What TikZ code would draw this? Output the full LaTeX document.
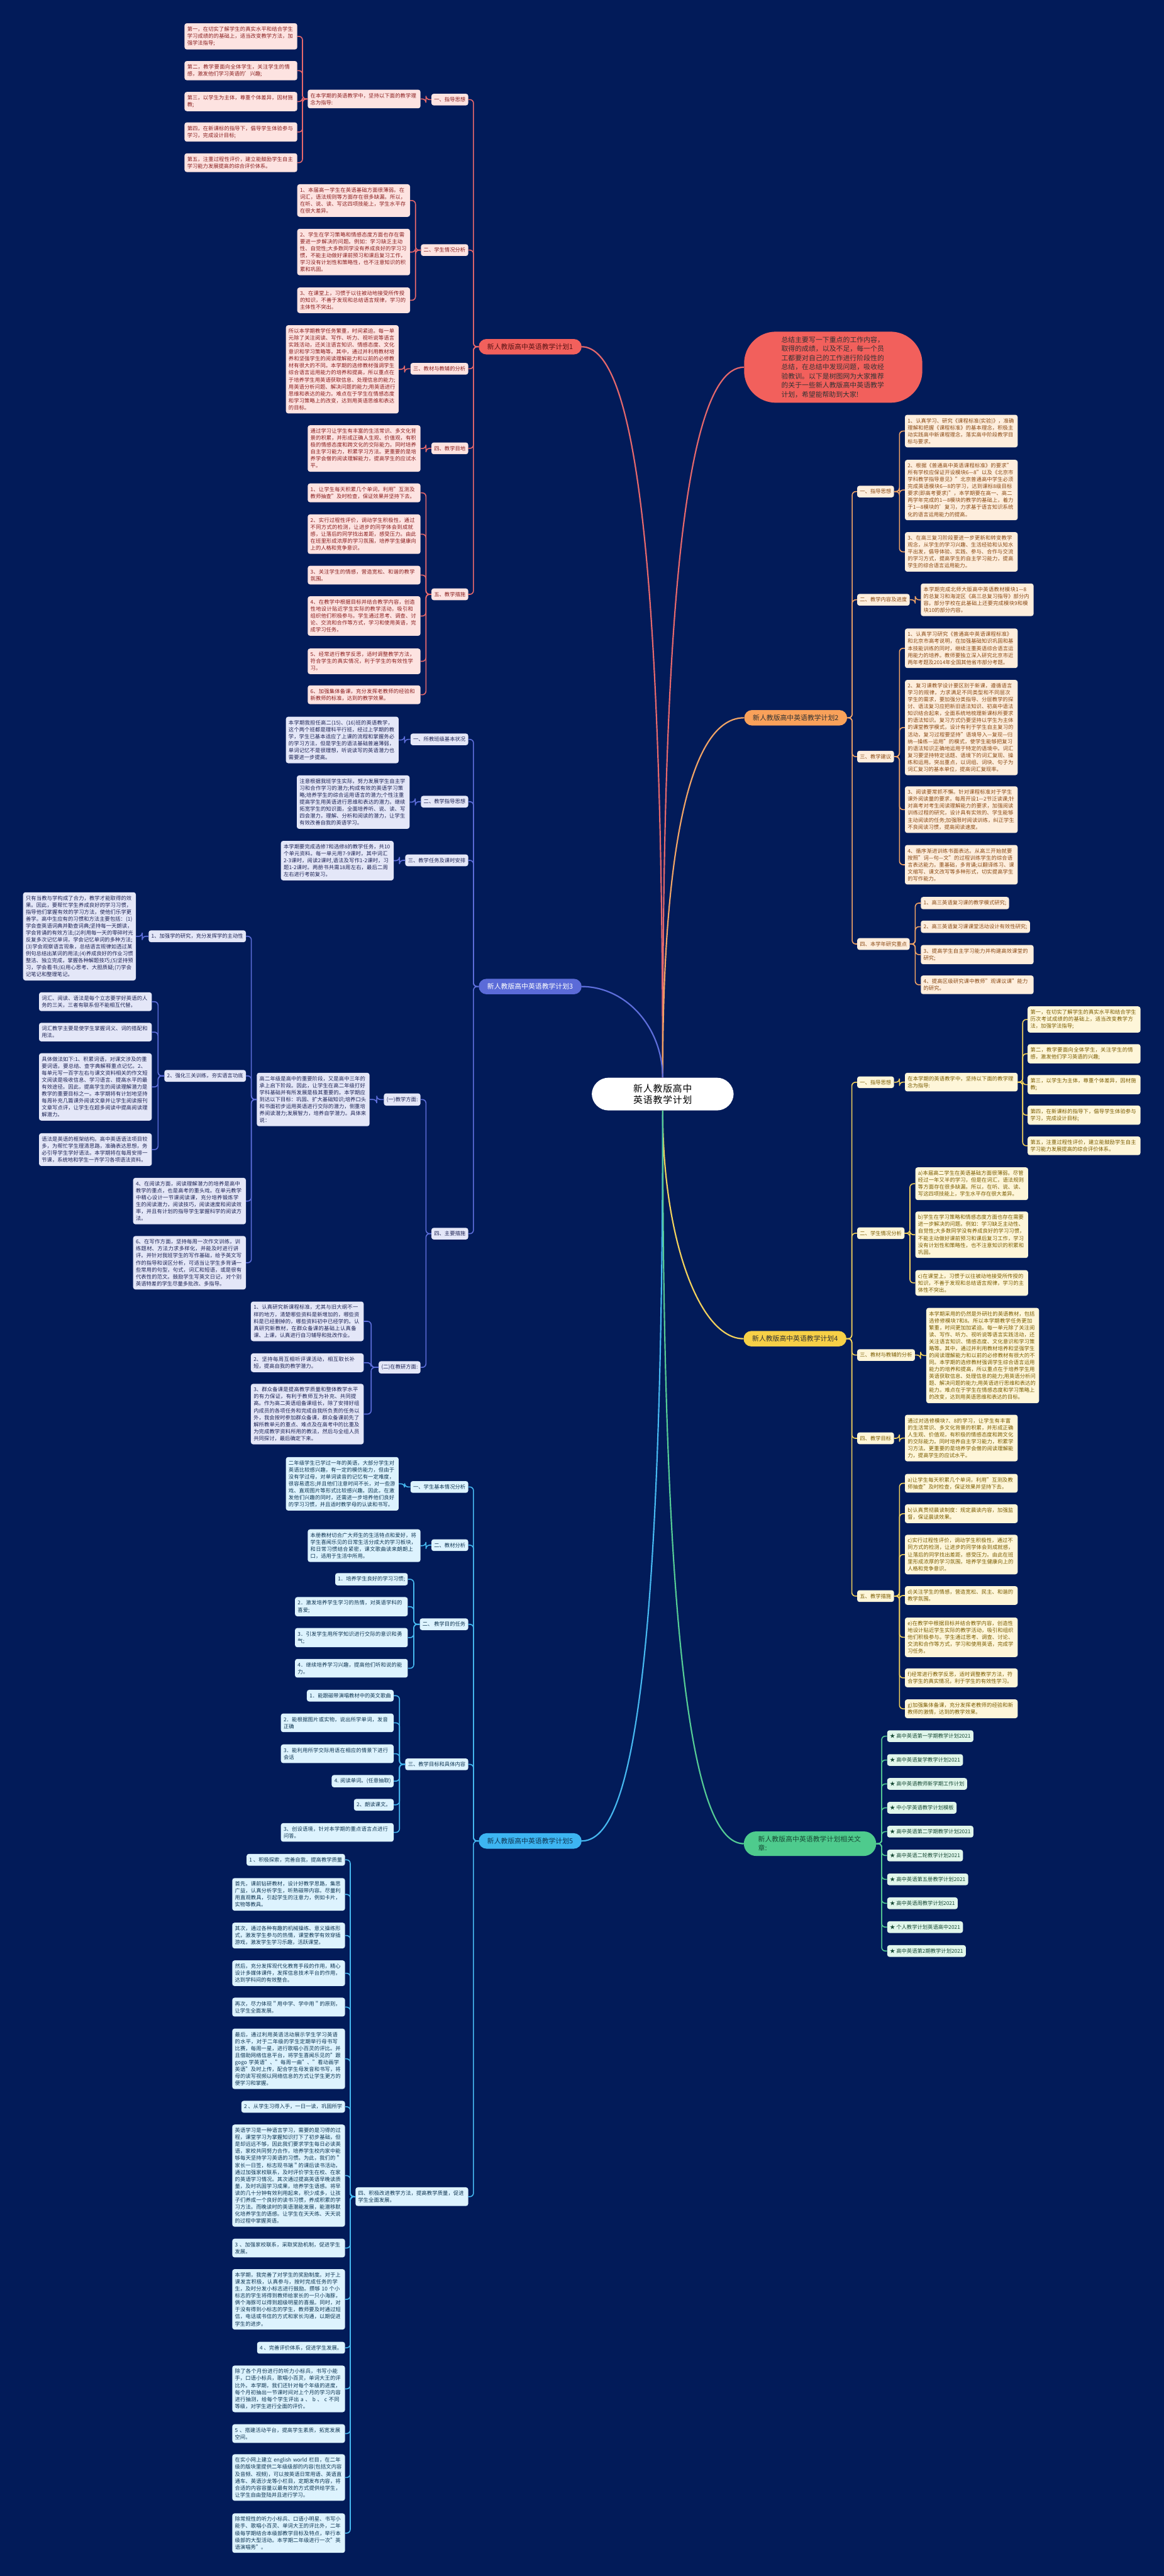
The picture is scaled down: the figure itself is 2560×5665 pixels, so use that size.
\documentclass[tikz,border=0pt]{standalone}
\usepackage{fontspec}
\setmainfont{Noto Sans CJK SC}
\XeTeXlinebreaklocale "zh"
\XeTeXlinebreakskip=0pt plus 1pt
\usetikzlibrary{calc}

\definecolor{bgnavy}{RGB}{2,27,89}
% branch colours
\definecolor{redmain}{RGB}{242,96,92}
\definecolor{redleaf}{RGB}{253,227,225}
\definecolor{redtext}{RGB}{138,30,30}
\definecolor{redline}{RGB}{230,104,108}
\definecolor{redhead}{RGB}{90,20,20}
\definecolor{orgmain}{RGB}{249,161,90}
\definecolor{orgleaf}{RGB}{254,238,221}
\definecolor{orgtext}{RGB}{138,74,20}
\definecolor{orgline}{RGB}{242,165,102}
\definecolor{blumain}{RGB}{91,107,216}
\definecolor{bluleaf}{RGB}{228,231,248}
\definecolor{blutext}{RGB}{30,36,85}
\definecolor{bluline}{RGB}{94,110,219}
\definecolor{yelmain}{RGB}{247,208,71}
\definecolor{yelleaf}{RGB}{254,246,217}
\definecolor{yeltext}{RGB}{122,92,0}
\definecolor{yelline}{RGB}{243,210,92}
\definecolor{cyamain}{RGB}{61,181,242}
\definecolor{cyaleaf}{RGB}{221,243,254}
\definecolor{cyatext}{RGB}{14,53,82}
\definecolor{cyaline}{RGB}{70,184,240}
\definecolor{grnmain}{RGB}{78,203,141}
\definecolor{grnleaf}{RGB}{224,246,235}
\definecolor{grntext}{RGB}{23,74,53}
\definecolor{grnline}{RGB}{85,204,149}

% elbow links from a parent to its children
\newcommand\joinL[3]{\foreach \k in {#3}{\draw[#1] (#2.west) -- ($(#2.west)!.5!(#2.west -| \k.east)$) |- (\k.east);}}
\newcommand\joinR[3]{\foreach \k in {#3}{\draw[#1] (#2.east) -- ($(#2.east)!.5!(#2.east -| \k.west)$) |- (\k.west);}}

\begin{document}
\begin{tikzpicture}[x=1pt, y=-1pt,
    every node/.style={font=\fontsize{11.5}{15.3}\selectfont, inner xsep=6pt, inner ysep=7.5pt, align=left, rounded corners=5pt},
    wide/.style={text width=236pt},
    mainn/.style={rounded corners=17pt, font=\fontsize{15}{18}\selectfont, inner xsep=19pt, inner ysep=10pt},
    lfA/.style={fill=redleaf, text=redtext},
    lfB/.style={fill=orgleaf, text=orgtext},
    lfC/.style={fill=bluleaf, text=blutext},
    lfD/.style={fill=yelleaf, text=yeltext},
    lfE/.style={fill=cyaleaf, text=cyatext},
    lfF/.style={fill=grnleaf, text=grntext},
    lnA/.style={draw=redline, line width=2.2pt, rounded corners=8pt},
    lnB/.style={draw=orgline, line width=2.2pt, rounded corners=8pt},
    lnC/.style={draw=bluline, line width=2.2pt, rounded corners=8pt},
    lnD/.style={draw=yelline, line width=2.2pt, rounded corners=8pt},
    lnE/.style={draw=cyaline, line width=2.2pt, rounded corners=8pt},
    lnF/.style={draw=grnline, line width=2.2pt, rounded corners=8pt}]

\useasboundingbox (0,0) rectangle (2560,5665);
\fill[bgnavy] (0,0) rectangle (2560,5665);

% centre
\node[fill=white, text=black, rounded corners=37pt, font=\fontsize{20.5}{25}\selectfont,
  text width=226pt, align=center, inner xsep=43pt, inner ysep=14pt] (root) at (1457.5,2406) {新人教版高中英语教学计划};

% main branches
\node[mainn, fill=redmain, text=redhead] (m1) at (1166,762.5) {新人教版高中英语教学计划1};
\node[mainn, fill=orgmain, text=black!80] (m2) at (1750,1578.5) {新人教版高中英语教学计划2};
\node[mainn, fill=blumain, text=white] (m3) at (1166,2169.5) {新人教版高中英语教学计划3};
\node[mainn, fill=yelmain, text=black!80] (m4) at (1748.5,2944) {新人教版高中英语教学计划4};
\node[mainn, fill=cyamain, text=cyatext] (m5) at (1166,4048.5) {新人教版高中英语教学计划5};
\node[mainn, fill=grnmain, text=grntext, rounded corners=27pt, font=\fontsize{15}{20}\selectfont,
  text width=228pt, inner xsep=31.5pt] (rel) at (1781.5,4054.5) {新人教版高中英语教学计划相关文章:};
\node[fill=redmain, text=black!80, rounded corners=70pt, font=\fontsize{15}{20}\selectfont,
  text width=228pt, inner xsep=82pt, inner ysep=11pt] (call) at (1832.5,807.5)
  {总结主要写一下重点的工作内容，取得的成绩，以及不足，每一个员工都要对自己的工作进行阶段性的总结，在总结中发现问题，吸收经验教训。以下是树图网为大家推荐的关于一些新人教版高中英语教学计划，希望能帮助到大家!};

% ---------- plan 1
\node[lfA, anchor=east] (p1a) at (1030,219) {一、指导思想};
\node[lfA, wide, anchor=north east] (p1a1) at (925,197) {在本学期的英语教学中，坚持以下面的教学理念为指导:};
\node[lfA, wide, anchor=north east] (g1) at (654,51) {第一，在切实了解学生的真实水平和结合学生学习成绩的的基础上，适当改变教学方法，加强学法指导;};
\node[lfA, wide, anchor=north east] (g2) at (654,134) {第二，教学要面向全体学生，关注学生的情感，激发他们学习英语的'兴趣;};
\node[lfA, wide, anchor=north east] (g3) at (654,202) {第三，以学生为主体，尊重个体差异，因材施教;};
\node[lfA, wide, anchor=north east] (g4) at (654,269) {第四，在新课标的指导下，倡导学生体验参与学习，完成设计目标;};
\node[lfA, wide, anchor=north east] (g5) at (654,337) {第五，注重过程性评价，建立能鼓励学生自主学习能力发展提高的综合评价体系。};
\node[lfA, anchor=east] (p1b) at (1030,550) {二、学生情况分析};
\node[lfA, wide, anchor=north east] (s1) at (902,405) {1、本届高一学生在英语基础方面很薄弱。在词汇，语法规则等方面存在很多缺漏。所以，在听、说、读、写这四项技能上，学生水平存在很大差异。};
\node[lfA, wide, anchor=north east] (s2) at (902,503) {2、学生在学习策略和情感态度方面也存在需要进一步解决的问题。例如：学习缺乏主动性、自觉性;大多数同学没有养成良好的学习习惯，不能主动做好课前预习和课后复习工作，学习没有计划性和策略性，也不注意知识的积累和巩固。};
\node[lfA, wide, anchor=north east] (s3) at (902,632) {3、在课堂上，习惯于以往被动地接受所传授的知识，不善于发现和总结语言规律，学习的主体性不突出。};
\node[lfA, anchor=east] (p1c) at (1030,811) {三、教材与教辅的分析};
\node[lfA, wide, anchor=north east] (t1) at (877,715) {所以本学期教学任务繁重，时间紧迫。每一单元除了关注阅读、写作、听力、视听说等语言实践活动，还关注语言知识、情感态度、文化意识和学习策略等。其中，通过并利用教材培养和坚强学生的阅读理解能力和以前的必修教材有很大的不同。本学期的选修教材强调学生综合语言运用能力的培养和提高，所以重点在于培养学生用英语获取信息、处理信息的能力;用英语分析问题、解决问题的能力;用英语进行思维和表达的能力。难点在于学生在情感态度和学习策略上的改变，达到用英语思维和表达的目标。};
\node[lfA, anchor=east] (p1d) at (1030,986) {四、教学目地};
\node[lfA, wide, anchor=north east] (u1) at (925,935) {通过学习让学生有丰富的生活常识、多文化背景的积累，并形成正确人生观、价值观，有积极的情感态度和跨文化的交际能力。同时培养自主学习能力，积累学习方法。更重要的是培养学会僧的阅读理解能力，提高学生的应试水平。};
\node[lfA, anchor=east] (p1e) at (1030,1307) {五、教学措施};
\node[lfA, wide, anchor=north east] (v1) at (925,1063) {1、让学生每天积累几个单词，利用"互测及教师抽查"及时检查，保证效果并坚持下去。};
\node[lfA, wide, anchor=north east] (v2) at (925,1131) {2、实行过程性评价，调动学生积极性，通过不同方式的检测，让进步的同学体会到成就感，让落后的同学找出差距，感受压力。由此在班里形成浓厚的学习氛围，培养学生健康向上的人格和竞争意识。};
\node[lfA, wide, anchor=north east] (v3) at (925,1244) {3、关注学生的情感，营造宽松、和谐的教学氛围。};
\node[lfA, wide, anchor=north east] (v4) at (925,1311) {4、在教学中根据目标并结合教学内容，创造性地设计贴近学生实际的教学活动，吸引和组织他们积极参与。学生通过思考、调查、讨论、交流和合作等方式，学习和使用英语，完成学习任务。};
\node[lfA, wide, anchor=north east] (v5) at (925,1426) {5、经常进行教学反思，适时调整教学方法，符合学生的真实情况，利于学生的有效性学习。};
\node[lfA, wide, anchor=north east] (v6) at (925,1507) {6、加强集体备课，充分发挥老教师的经验和新教师的标准，达到的教学效果。};

% ---------- plan 2
\node[lfB, anchor=west] (p2a) at (1885,1081) {一、指导思想};
\node[lfB, wide, anchor=north west] (h1) at (1990,912) {1、认真学习、研究《课程标准(实验)》，准确理解和把握《课程标准》的基本理念，积极主动实践高中新课程理念，落实高中阶段教学目标与要求。};
\node[lfB, wide, anchor=north west] (h2) at (1990,1011) {2、根据《普通高中英语课程标准》的要求"所有学校应保证开设模块6—8"以及《北京市学科教学指导意见》"北京普通高中学生必须完成英语模块6—8的学习，达到课标8级目标要求(即高考要求)"，本学期要在高一、高二两学年完成的1—8模块的教学的基础上，着力于1—8模块的'复习，力求基于语言知识系统化的语言运用能力的提高。};
\node[lfB, wide, anchor=north west] (h3) at (1990,1170) {3、在高三复习阶段要进一步更新和转变教学观念，从学生的学习兴趣、生活经验和认知水平出发，倡导体验、实践、参与、合作与交流的学习方式，提高学生的自主学习能力，提高学生的综合语言运用能力。};
\node[lfB, anchor=west] (p2b) at (1885,1319) {二、教学内容及进度};
\node[lfB, wide, anchor=north west] (h4) at (2025,1283) {本学期完成北师大版高中英语教材模块1—8的总复习和海淀区《高三总复习指导》部分内容。部分学校在此基础上还要完成模块9和模块10的部分内容。};
\node[lfB, anchor=west] (p2c) at (1885,1664) {三、教学建议};
\node[lfB, wide, anchor=north west] (j1) at (1990,1382) {1、认真学习研究《普通高中英语课程标准》和北京市高考说明，在加强基础知识巩固和基本技能训练的同时，继续注重英语综合语言运用能力的培养。教师要独立深入研究北京市近两年考题及2014年全国其他省市部分考题。};
\node[lfB, wide, anchor=north west] (j2) at (1990,1495) {2、复习课教学设计要区别于新课，遵循语言学习的规律，力求满足不同类型和不同层次学生的需求，要加强分类指导、分层教学的探讨、语法复习应把新旧语法知识、初高中语法知识结合起来，全面系统地梳理新课标所要求的语法知识。复习方式仍要坚持以学生为主体的课堂教学模式，设计有利于学生自主复习的活动，复习过程要坚持"语境导入—复现—归纳—操练—运用"的模式，使学生能够把复习的语法知识正确地运用于特定的语境中。词汇复习要坚持特定话题、语境下的词汇复现、操练和运用。突出重点，以词组、词块、句子为词汇复习的基本单位，提高词汇复现率。};
\node[lfB, wide, anchor=north west] (j3) at (1990,1729) {3、阅读要常抓不懈。针对课程标准对于学生课外阅读量的要求，每周开设1—2节泛读课;针对高考对考生阅读理解能力的要求，加强阅读训练过程的研究，设计具有实效的、学生能够主动阅读的任务;加强限时阅读训练，纠正学生不良阅读习惯，提高阅读速度。};
\node[lfB, wide, anchor=north west] (j4) at (1990,1858) {4、循序渐进训练书面表达。从高三开始就要按照"词—句—文"的过程训练学生的综合语言表达能力。重基础，多背诵;以翻译练习、课文缩写、课文改写等多种形式，切实提高学生的写作能力。};
\node[lfB, anchor=west] (p2d) at (1885,2076) {四、本学年研究重点};
\node[lfB, anchor=west] (k1) at (2025,1986) {1、高三英语复习课的教学模式研究;};
\node[lfB, anchor=west] (k2) at (2025,2038) {2、高三英语复习课课堂活动设计有效性研究;};
\node[lfB, wide, anchor=north west] (k3) at (2025,2078) {3、提高学生自主学习能力并构建高效课堂的研究;};
\node[lfB, wide, anchor=north west] (k4) at (2025,2145) {4、提高区级研究课中教师"观课议课"能力的研究。};

% ---------- plan 3
\node[lfC, anchor=east] (p3a) at (1030,1626) {一、所教班级基本状况};
\node[lfC, wide, anchor=north east] (w1) at (877,1576) {本学期我担任高二(15)、(16)班的英语教学，这个两个班都是理科平行班，经过上学期的教学，学生已基本适应了上课的流程和掌握务必的学习方法，但是学生的语法基础普遍薄弱，单词记忆不是很理想，听说读写的英语潜力也需要进一步提高。};
\node[lfC, anchor=east] (p3b) at (1030,1763) {二、教学指导思想};
\node[lfC, wide, anchor=north east] (w2) at (901,1705) {注意根据我班学生实际，努力发展学生自主学习和合作学习的潜力;构成有效的英语学习策略;培养学生的综合运用语言的潜力;个性注重提高学生用英语进行思维和表达的潜力。继续拓宽学生的知识面，全面培养听、说、读、写四会潜力，理解、分析和阅读的潜力，让学生有效改善自我的英语学习。};
\node[lfC, anchor=east] (p3c) at (1030,1892) {三、教学任务及课时安排};
\node[lfC, wide, anchor=north east] (w3) at (866,1849) {本学期要完成选修7和选修8的教学任务，共10个单元资料。每一单元用7-9课时，其中词汇2-3课时，阅读2课时,语法及写作1-2课时，习题1-2课时。两册书共需18周左右，最后二周左右进行考前复习。};
\node[lfC, anchor=east] (p3d) at (1030,2713) {四、主要措施};
\node[lfC, anchor=east] (q1) at (925,2418) {(一)教学方面:};
\node[lfC, wide, anchor=north east] (q1x) at (813,2359) {高二年级是高中的重要阶段，又是高中三年的承上启下阶段。因此，让学生在高二年级打好学科基础并有所发展是极其重要的。本学期应到达以下目标：巩固、扩大基础知识;培养口头和书面初步运用英语进行交际的潜力，侧重培养阅读潜力;发展智力，培养自学潜力。具体来说：};
\node[lfC, anchor=east] (r1) at (541,2059) {1、加强学的研究，充分发挥学的主动性};
\node[lfC, wide, anchor=north east] (r1a) at (299,1962) {只有当教与学构成了合力，教学才能取得的效果。因此，要帮忙学生养成良好的学习习惯，指导他们掌握有效的学习方法，使他们乐学更善学。高中生应有的习惯和方法主要包括：(1)学会查英语词典并勤查词典;坚持每一天朗读，学会背诵的有效方法;(2)利用每一天的零碎时光反复多次记忆单词，学会记忆单词的多种方法;(3)学会观察语言现象，总结语言规律如透过某例句总结出某词的用法;(4)养成良好的作业习惯整洁、独立完成，掌握各种解题技巧;(5)坚持预习，学会看书;(6)用心思考、大胆质疑;(7)学会记笔记和整理笔记。};
\node[lfC, anchor=east] (r2) at (541,2366) {2、强化三关训练，夯实语言功底};
\node[lfC, wide, anchor=north east] (r2a) at (334,2182) {词汇、阅读、语法是每个立志要学好英语的人务的三关，三者有联系但不能相互代替。};
\node[lfC, wide, anchor=north east] (r2b) at (334,2249) {词汇教学主要是使学生掌握词义、词的搭配和用法。};
\node[lfC, wide, anchor=north east] (r2c) at (334,2316) {具体做法如下:1、积累词语，对课文涉及的重要词语，要总结、查字典解释重点记忆。2、每单元写一百字左右与课文资料相关的作文短文阅读是吸收信息、学习语言、提高水平的最有效途径。因此，提高学生的阅读理解潜力是教学的重要目标之一。本学期将有计划地坚持每周补充几篇课外阅读文章并让学生阅读报刊文章写点评，让学生在超多阅读中提高阅读理解潜力。};
\node[lfC, wide, anchor=north east] (r2d) at (334,2492) {语法是英语的框架结构。高中英语语法项目较多，为帮忙学生理清思路，准确表达思想，务必引导学生学好语法。本学期将在每周安排一节课，系统地和学生一齐学习各项语法资料。};
\node[lfC, wide, anchor=north east] (r4) at (541,2590) {4、在阅读方面，阅读理解潜力的培养是高中教学的重点，也是高考的重头戏。在单元教学中精心设计一节课阅读课，充分培养锻炼学生的阅读潜力，阅读技巧，阅读速度和阅读效率，并且有计划的指导学生掌握科学的阅读方法。};
\node[lfC, wide, anchor=north east] (r6) at (541,2718) {6、在写作方面，坚持每周一次作文训练，训练题材、方法力求多样化，并能及时进行讲评。并针对我班学生的写作基础，给予英文写作的指导和误区分析，可适当让学生多背诵一些常用的句型，句式，词汇和短语，或是很有代表性的范文。鼓励学生写英文日记，对个别英语特差的学生尽量多批改、多指导。};
\node[lfC, anchor=east] (q2) at (925,3007) {(二)在教研方面:};
\node[lfC, wide, anchor=north east] (q2a) at (800,2862) {1、认真研究新课程标准，尤其与旧大纲不一样的地方，清楚哪些资料是新增加的，哪些资料是已经删掉的，哪些资料初中已经学的。认真研究新教材，在群众备课的基础上认真备课、上课，认真进行自习辅导和批改作业。};
\node[lfC, wide, anchor=north east] (q2b) at (800,2976) {2、坚持每周互相听评课活动，相互取长补短，提高自我的教学潜力。};
\node[lfC, wide, anchor=north east] (q2c) at (800,3043) {3、群众备课是提高教学质量和整体教学水平的有力保证，有利于教师互为补充、共同提高。作为高二英语组备课组长，除了安排好组内成员的各项任务和完成自我所负责的任务以外，我会按时参加群众备课，群众备课前先了解所教单元的重点、难点及在高考中的比重及为完成教学资料所用的教法，然后与全组人员共同探讨，最后确定下来。};

% ---------- plan 4
\node[lfD, anchor=west] (p4a) at (1885,2380) {一、指导思想};
\node[lfD, wide, anchor=north west] (n0) at (1990,2359) {在本学期的英语教学中，坚持以下面的教学理念为指导:};
\node[lfD, wide, anchor=north west] (f1) at (2260,2213) {第一，在切实了解学生的真实水平和结合学生历次考试成绩的的基础上，适当改变教学方法，加强学法指导;};
\node[lfD, wide, anchor=north west] (f2) at (2260,2296) {第二，教学要面向全体学生，关注学生的情感，激发他们学习英语的兴趣;};
\node[lfD, wide, anchor=north west] (f3) at (2260,2364) {第三，以学生为主体，尊重个体差异，因材施教;};
\node[lfD, wide, anchor=north west] (f4) at (2260,2431) {第四，在新课标的指导下，倡导学生体验参与学习，完成设计目标;};
\node[lfD, wide, anchor=north west] (f5) at (2260,2499) {第五，注重过程性评价，建立能鼓励学生自主学习能力发展提高的综合评价体系。};
\node[lfD, anchor=west] (p4b) at (1885,2712) {二、学生情况分析};
\node[lfD, wide, anchor=north west] (e1) at (2013,2567) {a)本届高二学生在英语基础方面很薄弱。尽管经过一年又半的学习，但是在词汇，语法规则等方面存在很多缺漏。所以，在听、说、读、写这四项技能上，学生水平存在很大差异。};
\node[lfD, wide, anchor=north west] (e2) at (2013,2664) {b)学生在学习策略和情感态度方面也存在需要进一步解决的问题。例如：学习缺乏主动性、自觉性;大多数同学没有养成良好的学习习惯，不能主动做好课前预习和课后复习工作，学习没有计划性和策略性，也不注意知识的积累和巩固。};
\node[lfD, wide, anchor=north west] (e3) at (2013,2793) {c)在课堂上，习惯于以往被动地接受所传授的知识，不善于发现和总结语言规律，学习的主体性不突出。};
\node[lfD, anchor=west] (p4c) at (1885,2980) {三、教材与教辅的分析};
\node[lfD, wide, anchor=north west] (e4) at (2037,2876) {本学期采用的仍然是外研社的英语教材，包括选修修模块7和8。所以本学期教学任务更加繁重，时间更加加紧迫。每一单元除了关注阅读、写作、听力、视听说等语言实践活动，还关注语言知识、情感态度、文化意识和学习策略等。其中，通过并利用教材培养和坚强学生的阅读理解能力和以前的必修教材有很大的不同。本学期的选修教材强调学生综合语言运用能力的培养和提高，所以重点在于培养学生用英语获取信息、处理信息的能力;用英语分析问题、解决问题的能力;用英语进行思维和表达的能力。难点在于学生在情感态度和学习策略上的改变，达到用英语思维和表达的目标。};
\node[lfD, anchor=west] (p4d) at (1885,3163) {四、教学目标};
\node[lfD, wide, anchor=north west] (e5) at (1990,3111) {通过对选修模块7、8的学习，让学生有丰富的生活常识、多文化背景的积累，并形成正确人生观、价值观，有积极的情感态度和跨文化的交际能力。同时培养自主学习能力，积累学习方法。更重要的是培养学会僧的阅读理解能力，提高学生的应试水平。};
\node[lfD, anchor=west] (p4e) at (1885,3510) {五、教学措施};
\node[lfD, wide, anchor=north west] (d1) at (1990,3241) {a)让学生每天积累几个单词，利用"互测及教师抽查"及时检查，保证效果并坚持下去。};
\node[lfD, wide, anchor=north west] (d2) at (1990,3308) {b)认真贯彻晨读制度：规定晨读内容，加强监督，保证晨读效果。};
\node[lfD, wide, anchor=north west] (d3) at (1990,3375) {c)实行过程性评价，调动学生积极性，通过不同方式的检测，让进步的同学体会到成就感，让落后的同学找出差距，感受压力。由此在班里形成浓厚的学习氛围，培养学生健康向上的人格和竞争意识。};
\node[lfD, wide, anchor=north west] (d4) at (1990,3488) {d)关注学生的情感，营造宽松、民主、和谐的教学氛围。};
\node[lfD, wide, anchor=north west] (d5) at (1990,3557) {e)在教学中根据目标并结合教学内容，创造性地设计贴近学生实际的教学活动，吸引和组织他们积极参与。学生通过思考、调查、讨论、交流和合作等方式，学习和使用英语，完成学习任务。};
\node[lfD, wide, anchor=north west] (d6) at (1990,3669) {f)经常进行教学反思，适时调整教学方法，符合学生的真实情况，利于学生的有效性学习。};
\node[lfD, wide, anchor=north west] (d7) at (1990,3737) {g)加强集体备课，充分发挥老教师的经验和新教师的激情，达到的教学效果。};

% ---------- plan 5
\node[lfE, anchor=east] (p5a) at (1030,3270) {一、学生基本情况分析};
\node[lfE, wide, anchor=north east] (o1) at (877,3204) {二年级学生已学过一年的英语，大部分学生对英语比较感兴趣，有一定的模仿能力，但由于没有学过母，对单词读音的记忆有一定难度，很容易遗忘;并且他们注意时间不长，对一些游戏、直观图片等形式比较感兴趣。因此，在激发他们兴趣的同时，还需进一步培养他们良好的学习习惯，并且适时教学母的认读和书写。};
\node[lfE, anchor=east] (p5b) at (1030,3398) {二、教材分析};
\node[lfE, wide, anchor=north east] (o2) at (925,3363) {本册教材切合广大师生的生活特点和爱好，将学生喜闻乐见的日常生活分成大的学习板块，和日常习惯结合紧密，课文歌曲读来朗朗上口，适用于生活中所用。};
\node[lfE, anchor=east] (p5c) at (1030,3572) {二、 教学目的任务};
\node[lfE, anchor=east] (x1) at (897,3473) {1．培养学生良好的学习习惯;};
\node[lfE, wide, anchor=north east] (x2) at (897,3512) {2．激发培养学生学习的热情，对英语学科的喜爱;};
\node[lfE, wide, anchor=north east] (x3) at (897,3580) {3．引发学生用所学知识进行交际的意识和勇气;};
\node[lfE, wide, anchor=north east] (x4) at (897,3648) {4．继续培养学习兴趣，提高他们听和说的能力。};
\node[lfE, anchor=east] (p5d) at (1030,3880) {三、教学目标和具体内容};
\node[lfE, anchor=east] (y1) at (866,3729) {1．能跟磁带演唱教材中的英文歌曲};
\node[lfE, wide, anchor=north east] (y2) at (866,3768) {2．能根据图片或实物，说出所学单词，发音正确};
\node[lfE, wide, anchor=north east] (y3) at (866,3836) {3．能利用所学交际用语在相应的情景下进行会话};
\node[lfE, anchor=east] (y4) at (866,3917) {4. 阅读单词。(任意抽取)};
\node[lfE, anchor=east] (y5) at (866,3969) {2、朗读课文。};
\node[lfE, wide, anchor=north east] (y6) at (866,4009) {3、创设语境，针对本学期的重点语言点进行问答。};
\node[lfE, wide, anchor=north east] (p5e) at (1030,4810) {四、积极改进教学方法，提高教学质量，促进学生全面发展。};
\node[lfE, anchor=east] (z1) at (759,4090) {1 、积极探索，完善自我，提高教学质量};
\node[lfE, wide, anchor=north east] (z2) at (759,4130) {首先，课前钻研教材，设计好教学思路，集思广益，认真分析学生，听熟磁带内容。尽量利用直观教具，引起学生的注意力，例如卡片，实物等教具。};
\node[lfE, wide, anchor=north east] (z3) at (759,4228) {其次，通过各种有趣的机械操练、意义操练形式，激发学生参与的热情，课堂教学有效穿插游戏，激发学生学习乐趣，活跃课堂。};
\node[lfE, wide, anchor=north east] (z4) at (759,4311) {然后，充分发挥现代化教育手段的作用，精心设计多媒体课件，发挥信息技术平台的作用，达到学科间的有效整合。};
\node[lfE, wide, anchor=north east] (z5) at (759,4393) {再次，尽力体现＂用中学、学中用＂的原则，让学生全面发展。};
\node[lfE, wide, anchor=north east] (z6) at (759,4461) {最后，通过利用英语活动展示学生学习英语的水平，对于二年级的学生定期举行母书写比赛，每周一星，进行歌唱小百灵的评比。并且借助网络信息平台，将学生喜闻乐见的"跟 gogo 学英语"、"每周一曲"、"看动画学英语"及时上传，配合学生母发音和书写，将母的读写视频以网络信息的方式让学生更方的便学习和掌握。};
\node[lfE, anchor=east] (z7) at (759,4633) {2 、从学生习得入手，一日一读，巩固所学};
\node[lfE, wide, anchor=north east] (z8) at (759,4672) {英语学习是一种语言学习，需要的是习得的过程，课堂学习为掌握知识打下了初步基础，但是却远远不够，因此我们要求学生每日必读英语，家校共同努力合作，培养学生校内家中能够每天坚持学习英语的习惯。为此，我们的＂家长一日签，标志现书端＂的课后读书活动，通过加强家校联系，及时评价学生在校、在家的英语学习情况。其次通过提高英语早晚读质量，及时巩固学习成果，培养学生语感。将早读的几十分钟有效利用起来，积少成多，让孩子们养成一个良好的读书习惯，养成积累的学习方法。而晚读时的英语潜能发展，能潜移默化培养学生的语感。让学生在天天练、天天说的过程中掌握英语。};
\node[lfE, wide, anchor=north east] (z9) at (759,4923) {3 、加强家校联系，采取奖励机制，促进学生发展。};
\node[lfE, wide, anchor=north east] (z10) at (759,4990) {本学期，我完善了对学生的奖励制度。对于上课发言积极，认真参与，按时完成任务的学生，及时分发小标志进行鼓励。攒够 10 个小标志的学生将得到教师给家长的一只小海豚，俩个海豚可以得到超级明星的喜报。同时，对于没有得到小标志的学生，教师要及时通过短信，电话或书信的方式和家长沟通，以期促进学生的进步。};
\node[lfE, anchor=east] (z11) at (759,5163) {4 、完善评价体系，促进学生发展。};
\node[lfE, wide, anchor=north east] (z12) at (759,5202) {除了各个月份进行的听力小标兵，书写小能手，口语小标兵，歌唱小百灵，单词大王的评比外。本学期，我们还针对每个年级的进度，每个月初抽出一节课时间对上个月的学习内容进行抽测，给每个学生评出 a 、 b 、 c 不同等级，对学生进行全面的评价。};
\node[lfE, wide, anchor=north east] (z13) at (759,5331) {5 、搭建活动平台，提高学生素质，拓宽发展空间。};
\node[lfE, wide, anchor=north east] (z14) at (759,5397) {在实小网上建立 english world 栏目，在二年级的版块里提供二年级级部的内容(包括文内容及音频、视频)，可以按英语日常用语、英语直通车、英语沙龙等小栏目，定期发布内容，将合适的内容容量以最有效的方式提供给学生，让学生自由登陆并且进行学习。};
\node[lfE, wide, anchor=north east] (z15) at (759,5527) {除常规性的听力小标兵、口语小明星、书写小能手、歌唱小百灵、单词大王的评比外，二年级每学期结合本级部教学目标及特点，举行本级部的大型活动。本学期二年级进行一次"英语演唱秀"。};

% ---------- related articles
\foreach \t [count=\i] in {★ 高中英语第一学期教学计划2021, ★ 高中英语复学教学计划2021, ★ 高中英语教师新学期工作计划,
    ★ 中小学英语教学计划模板, ★ 高中英语第二学期教学计划2021, ★ 高中英语二轮教学计划2021,
    ★ 高中英语第五册教学计划2021, ★ 高中英语周教学计划2021, ★ 个人教学计划英语高中2021, ★ 高中英语第2期教学计划2021}
  \node[lfF, anchor=west] (a\i) at (1951,{3765.5+52.5*\i}) {\t};

% main curves
\draw[redline, line width=3pt] (root.north) .. controls (1457,1250) and (1400,763) .. (m1.east);
\draw[redline, line width=3pt] (root.north) .. controls (1457,1600) and (1480,807) .. (call.west);
\draw[orgline, line width=3pt] (root.north) .. controls (1457,1950) and (1500,1578) .. (m2.west);
\draw[bluline, line width=3pt] (root.north) .. controls (1457,2259) and (1377,2170) .. (m3.east);
\draw[yelline, line width=3pt] (root.south) .. controls (1457,2720) and (1537,2944) .. (m4.west);
\draw[cyaline, line width=3pt] (root.south) .. controls (1457,3750) and (1380,4048) .. (m5.east);
\draw[grnline, line width=3pt] (root.south) .. controls (1457,3750) and (1540,4054) .. (rel.west);

% links
\joinL{lnA}{m1}{p1a,p1b,p1c,p1d,p1e}
\joinL{lnA}{p1a}{p1a1}
\joinL{lnA}{p1a1}{g1,g2,g3,g4,g5}
\joinL{lnA}{p1b}{s1,s2,s3}
\joinL{lnA}{p1c}{t1}
\joinL{lnA}{p1d}{u1}
\joinL{lnA}{p1e}{v1,v2,v3,v4,v5,v6}

\joinR{lnB}{m2}{p2a,p2b,p2c,p2d}
\joinR{lnB}{p2a}{h1,h2,h3}
\joinR{lnB}{p2b}{h4}
\joinR{lnB}{p2c}{j1,j2,j3,j4}
\joinR{lnB}{p2d}{k1,k2,k3,k4}

\joinL{lnC}{m3}{p3a,p3b,p3c,p3d}
\joinL{lnC}{p3a}{w1}
\joinL{lnC}{p3b}{w2}
\joinL{lnC}{p3c}{w3}
\joinL{lnC}{p3d}{q1,q2}
\joinL{lnC}{q1}{q1x}
\joinL{lnC}{q1x}{r1,r2,r4,r6}
\joinL{lnC}{r1}{r1a}
\joinL{lnC}{r2}{r2a,r2b,r2c,r2d}
\joinL{lnC}{q2}{q2a,q2b,q2c}

\joinR{lnD}{m4}{p4a,p4b,p4c,p4d,p4e}
\joinR{lnD}{p4a}{n0}
\joinR{lnD}{n0}{f1,f2,f3,f4,f5}
\joinR{lnD}{p4b}{e1,e2,e3}
\joinR{lnD}{p4c}{e4}
\joinR{lnD}{p4d}{e5}
\joinR{lnD}{p4e}{d1,d2,d3,d4,d5,d6,d7}

\joinL{lnE}{m5}{p5a,p5b,p5c,p5d,p5e}
\joinL{lnE}{p5a}{o1}
\joinL{lnE}{p5b}{o2}
\joinL{lnE}{p5c}{x1,x2,x3,x4}
\joinL{lnE}{p5d}{y1,y2,y3,y4,y5,y6}
\joinL{lnE}{p5e}{z1,z2,z3,z4,z5,z6,z7,z8,z9,z10,z11,z12,z13,z14,z15}

\joinR{lnF}{rel}{a1,a2,a3,a4,a5,a6,a7,a8,a9,a10}
\end{tikzpicture}
\end{document}
